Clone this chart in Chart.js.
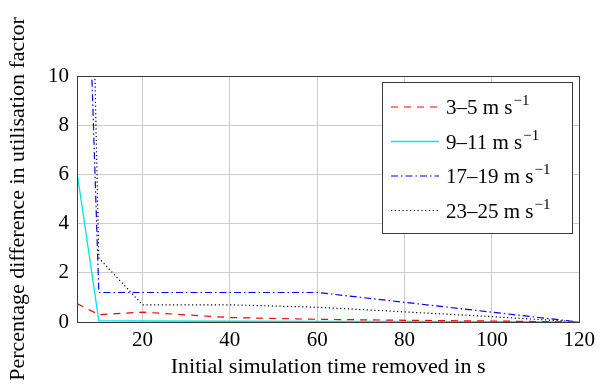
<!DOCTYPE html>
<html>
<head>
<meta charset="utf-8">
<script src="https://cdn.jsdelivr.net/npm/chart.js@4.4.1/dist/chart.umd.min.js"></script>
<style>
  html, body { margin: 0; padding: 0; background: #fff; }
  #wrap { width: 601px; height: 386px; }
</style>
</head>
<body>
<div id="wrap"><canvas id="ufChart" width="601" height="386"></canvas></div>
<script>
/**
 *  Chart data
 */
var timeRemoved = [5, 10, 20, 40, 60, 80, 100, 120];
var speedBins = ['3–5', '9–11', '17–19', '23–25'];
var diff3to5 = [0.75, 0.3, 0.4, 0.18, 0.11, 0.07, 0.04, 0.0];
var diff9to11 = [6.1, 0.05, 0.04, 0.03, 0.02, 0.02, 0.01, 0.0];
var diff17to19 = [28.7, 1.2, 1.2, 1.2, 1.2, 0.8, 0.4, 0.0];
var diff23to25 = [43.7, 2.6, 0.7, 0.7, 0.6, 0.41, 0.22, 0.0];
var xTicks = [20, 40, 60, 80, 100, 120];
var yTicks = [0, 2, 4, 6, 8, 10];

var serif = '"Liberation Serif", "DejaVu Serif", serif';

function toPoints(values)
{
    return timeRemoved.map(function (t, i) {
        return { x: t, y: values[i] };
    });
}

/**
 *  Box around the plot area and the legend with superscript units
 */
var boxAndLegend = {
    id: 'boxAndLegend',
    afterDatasetsDraw: function (chart) {
        var ctx = chart.ctx;
        var a = chart.chartArea;
        ctx.save();
        ctx.strokeStyle = '#3a3a3a';
        ctx.lineWidth = 1;
        ctx.strokeRect(Math.round(a.left) + 0.5, Math.round(a.top) + 0.5,
            Math.round(a.right - a.left), Math.round(a.bottom - a.top));

        // legend box
        var lx = 382, ly = 82, lw = 190, lh = 151;
        ctx.fillStyle = '#fff';
        ctx.fillRect(lx, ly, lw, lh);
        ctx.strokeStyle = '#3a3a3a';
        ctx.strokeRect(lx + 0.5, ly + 0.5, lw, lh);

        chart.data.datasets.forEach(function (ds, i) {
            var y = 107 + i * 34.5;
            ctx.save();
            ctx.strokeStyle = ds.borderColor;
            ctx.lineWidth = ds.borderWidth;
            ctx.setLineDash(ds.borderDash || []);
            ctx.beginPath();
            ctx.moveTo(391, y);
            ctx.lineTo(439, y);
            ctx.stroke();
            ctx.restore();

            ctx.fillStyle = '#000';
            ctx.textBaseline = 'alphabetic';
            ctx.font = '21px ' + serif;
            var main = speedBins[i] + ' m s';
            ctx.fillText(main, 446, y + 7);
            var w = ctx.measureText(main).width;
            ctx.font = '15px ' + serif;
            ctx.fillText('−1', 446 + w + 1, y - 2);
        });
        ctx.restore();
    }
};

var ctx = document.getElementById('ufChart').getContext('2d');
var ufChart = new Chart(ctx, {
    type: 'line',
    data: {
        datasets: [
        {
            label: speedBins[0] + ' m s⁻¹',
            data: toPoints(diff3to5),
            borderColor: '#ff0000',
            borderWidth: 1.2,
            borderDash: [7, 6],
            pointRadius: 0,
            fill: false
        },
        {
            label: speedBins[1] + ' m s⁻¹',
            data: toPoints(diff9to11),
            borderColor: '#00e5e5',
            borderWidth: 1.3,
            pointRadius: 0,
            fill: false
        },
        {
            label: speedBins[2] + ' m s⁻¹',
            data: toPoints(diff17to19),
            borderColor: '#0000ff',
            borderWidth: 1.2,
            borderDash: [7, 3, 1.5, 3],
            pointRadius: 0,
            fill: false
        },
        {
            label: speedBins[3] + ' m s⁻¹',
            data: toPoints(diff23to25),
            borderColor: '#000000',
            borderWidth: 1.2,
            borderDash: [1.2, 2.6],
            pointRadius: 0,
            fill: false
        }
        ]
    },
    options: {
        responsive: false,
        animation: false,
        tension: 0,
        layout: {
            padding: { left: 0, right: 21, top: 76, bottom: 0 }
        },
        plugins: {
            legend: { display: false },
            tooltip: { enabled: false }
        },
        scales: {
            x: {
                type: 'linear',
                min: 5,
                max: 120,
                afterBuildTicks: function (axis) {
                    axis.ticks = xTicks.map(function (v) { return { value: v }; });
                },
                afterFit: function (axis) { axis.height = 64; },
                grid: { color: '#cccccc', lineWidth: 1, drawTicks: false },
                border: { color: '#3a3a3a', width: 1 },
                ticks: {
                    color: '#000',
                    padding: 6,
                    font: { family: serif, size: 21 }
                },
                title: {
                    display: true,
                    text: 'Initial simulation time removed in s',
                    color: '#000',
                    padding: { top: 0, bottom: 6 },
                    font: { family: serif, size: 22 }
                }
            },
            y: {
                min: 0,
                max: 10,
                afterBuildTicks: function (axis) {
                    axis.ticks = yTicks.map(function (v) { return { value: v }; });
                },
                afterFit: function (axis) { axis.width = 77; },
                grid: { color: '#cccccc', lineWidth: 1, drawTicks: false },
                border: { color: '#3a3a3a', width: 1 },
                ticks: {
                    color: '#000',
                    padding: 8,
                    font: { family: serif, size: 21 }
                },
                title: {
                    display: true,
                    text: 'Percentage difference in utilisation factor',
                    color: '#000',
                    padding: { top: 5, bottom: 0 },
                    font: { family: serif, size: 22 }
                }
            }
        }
    },
    plugins: [boxAndLegend]
});
</script>
</body>
</html>
